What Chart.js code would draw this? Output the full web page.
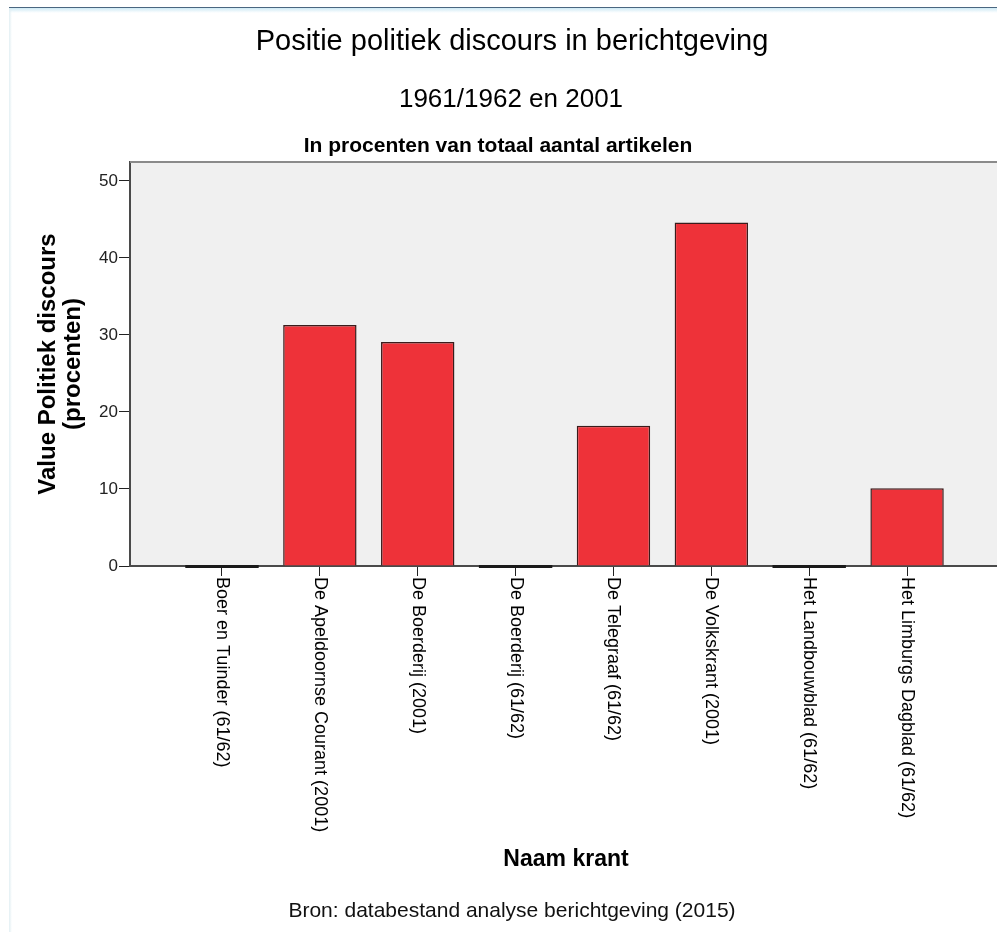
<!DOCTYPE html>
<html>
<head>
<meta charset="utf-8">
<script src="https://cdn.jsdelivr.net/npm/chart.js@4.4.0/dist/chart.umd.min.js"></script>
<style>
html,body{margin:0;padding:0;background:#fff;overflow:hidden;width:997px;height:932px;}
#wrap{position:relative;width:997px;height:932px;overflow:hidden;background:#fff;}
#c{position:absolute;left:0;top:0;width:1024px;height:932px;}
#topline{position:absolute;left:9px;top:7px;width:988px;height:1px;background:#4a6680;}
#topglow{position:absolute;left:9px;top:8px;width:988px;height:5px;background:linear-gradient(#cfeaf5,rgba(255,255,255,0));}
#leftline{position:absolute;left:9px;top:8px;width:3px;height:924px;background:linear-gradient(90deg,#e2eff3,rgba(255,255,255,0));}
</style>
</head>
<body>
<div id="wrap">
<canvas id="c" width="1024" height="932"></canvas>
<div id="topline"></div><div id="topglow"></div><div id="leftline"></div>
</div>
<script>
// ---- data ----
const categories = [
  'Boer en Tuinder (61/62)',
  'De Apeldoornse Courant (2001)',
  'De Boerderij (2001)',
  'De Boerderij (61/62)',
  'De Telegraaf (61/62)',
  'De Volkskrant (2001)',
  'Het Landbouwblad (61/62)',
  'Het Limburgs Dagblad (61/62)'
];
const values = [0, 31.3, 29.1, 0, 18.2, 44.6, 0, 10.1];
const yTicks = [0, 10, 20, 30, 40, 50];
const titleText = 'Positie politiek discours in berichtgeving';
const titleLine2 = '1961/1962 en 2001';
const subtitleText = 'In procenten van totaal aantal artikelen';
const yTitle = ['Value Politiek discours', '(procenten)'];
const xTitle = 'Naam krant';
const sourceText = 'Bron: databestand analyse berichtgeving (2015)';

const FONT = "'Liberation Sans', Arial, sans-serif";

const decor = {
  id: 'decor',
  beforeDraw(chart) {
    const {ctx, chartArea: a} = chart;
    ctx.save();
    ctx.fillStyle = '#f0f0f0';
    ctx.fillRect(a.left, a.top, a.right - a.left, a.bottom - a.top);
    ctx.restore();
  },
  afterDatasetsDraw(chart) {
    const {ctx, chartArea: a} = chart;
    const meta = chart.getDatasetMeta(0);
    const yScale = chart.scales.y;
    const y0 = yScale.getPixelForValue(0);
    ctx.save();
    ctx.fillStyle = '#1a1a1a';
    meta.data.forEach((bar, i) => {
      if (values[i] === 0) {
        const p = bar.getProps(['x', 'width'], true);
        ctx.fillRect(p.x - p.width / 2, y0 - 1, p.width, 3);
      }
    });
    ctx.strokeStyle = '#8a8a8a';
    ctx.lineWidth = 2;
    ctx.beginPath();
    ctx.moveTo(a.left, a.top);
    ctx.lineTo(a.right, a.top);
    ctx.lineTo(a.right, a.bottom);
    ctx.stroke();
    ctx.restore();
  },
  afterDraw(chart) {
    const {ctx, chartArea: a} = chart;
    const xs = chart.scales.x;
    ctx.save();
    ctx.fillStyle = '#000';
    ctx.font = '18px ' + FONT;
    ctx.textAlign = 'left';
    ctx.textBaseline = 'middle';
    categories.forEach((lab, i) => {
      const x = xs.getPixelForValue(i);
      ctx.save();
      ctx.translate(x, a.bottom + 11);
      ctx.rotate(Math.PI / 2);
      ctx.fillText(lab, 0, 0);
      ctx.restore();
    });
    ctx.textAlign = 'center';
    ctx.textBaseline = 'alphabetic';
    ctx.font = '26px ' + FONT;
    ctx.fillText(titleLine2, 511, 107);
    ctx.font = 'bold 21px ' + FONT;
    ctx.fillText(subtitleText, 498, 152);
    ctx.restore();
  }
};

new Chart(document.getElementById('c'), {
  type: 'bar',
  data: {
    datasets: [{
      data: values.map((v, i) => ({x: i, y: v})),
      backgroundColor: '#ee3239',
      borderColor: '#3a1c1c',
      borderWidth: 1.5,
      borderSkipped: 'start',
      barPercentage: 0.75,
      categoryPercentage: 1
    }]
  },
  options: {
    responsive: false,
    animation: false,
    devicePixelRatio: 1,
    layout: {padding: {left: 0, right: 0, top: 0, bottom: 0}},
    plugins: {
      legend: {display: false},
      tooltip: {enabled: false},
      title: {
        display: true,
        text: titleText,
        color: '#000',
        font: {family: FONT, size: 29, weight: 'normal', lineHeight: '56px'},
        padding: {top: 14, bottom: 92}
      },
      subtitle: {
        display: true,
        position: 'bottom',
        text: sourceText,
        color: '#111',
        font: {family: FONT, size: 21, weight: 'normal', lineHeight: '24px'},
        padding: {top: 0, bottom: 8.5}
      }
    },
    scales: {
      x: {
        type: 'linear',
        min: -0.94,
        max: 7.97,
        offset: false,
        afterBuildTicks: s => { s.ticks = categories.map((_, i) => ({value: i})); },
        afterFit: s => { s.height = 333.5; },
        ticks: {display: false},
        grid: {display: true, offset: false, drawOnChartArea: false, drawTicks: true, tickLength: 10, color: '#222', lineWidth: 1},
        border: {display: true, color: '#4a4a4a', width: 2},
        title: {display: true, text: xTitle, color: '#000',
          font: {family: FONT, size: 23, weight: 'bold', lineHeight: 1.2},
          padding: {top: 0, bottom: 26.1}}
      },
      y: {
        type: 'linear',
        position: 'left',
        min: 0,
        max: 52.46,
        afterBuildTicks: s => { s.ticks = yTicks.map(v => ({value: v})); },
        afterFit: s => { s.width = 130; },
        ticks: {font: {family: FONT, size: 17}, color: '#222', padding: 1},
        grid: {display: true, drawOnChartArea: false, drawTicks: true, tickLength: 11, color: '#222', lineWidth: 1},
        border: {display: true, color: '#4a4a4a', width: 2},
        title: {display: true, text: yTitle, color: '#000',
          font: {family: FONT, size: 24, weight: 'bold', lineHeight: '25px'},
          padding: {top: 35.4, bottom: 0}}
      },
      yRight: {
        type: 'linear',
        position: 'right',
        display: true,
        ticks: {display: false},
        grid: {display: false},
        border: {display: false},
        afterFit: s => { s.width = 22; }
      }
    }
  },
  plugins: [decor]
});
</script>
</body>
</html>
